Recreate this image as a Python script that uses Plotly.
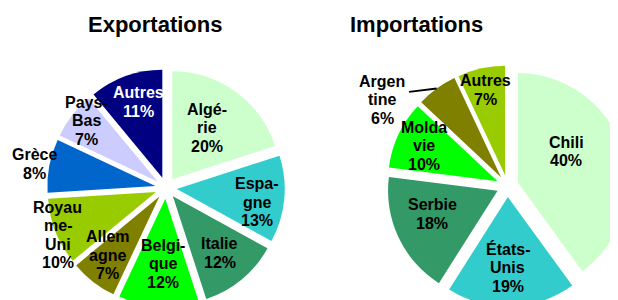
import math
import plotly.graph_objects as go

# ---------------- data ----------------
exp_labels = ["Algérie", "Espagne", "Italie", "Belgique", "Allemagne",
              "Royaume-Uni", "Grèce", "Pays-Bas", "Autres"]
exp_text = ["Algé-<br>rie", "Espa-<br>gne", "Italie", "Belgi-<br>que", "Allem<br>agne",
            "Royau<br>me-<br>Uni", "Grèce", "Pays-<br>Bas", "Autres"]
exp_values = [20, 13, 12, 12, 7, 10, 8, 7, 11]

imp_labels = ["Chili", "États-Unis", "Serbie", "Moldavie", "Argentine", "Autres"]
imp_text = ["Chili", "États-<br>Unis", "Serbie", "Molda<br>vie", "Argen<br>tine", "Autres"]
imp_values = [40, 19, 18, 10, 6, 7]

titles = ["Exportations", "Importations"]

# ---------------- style ----------------
OFF = 8            # page body margin of the browser
W, H = 640, 320    # figure a bit larger than the window: pies are cut at the edges
FONT = "Liberation Sans, Arial, sans-serif"
LABEL_SIZE = 16
LINE_STEP = 18.5
PULL = 0.1
exp_colors = ["#CCFFCC", "#33CCCC", "#339966", "#00FF00", "#808000",
              "#99CC00", "#0066CC", "#CCCCFF", "#000080"]
imp_colors = ["#CCFFCC", "#33CCCC", "#339966", "#00FF00", "#808000", "#99CC00"]
exp_label_colors = ["black"] * 8 + ["white"]
imp_label_colors = ["black"] * 6
# label placement: (radius fraction, angle offset deg)
exp_lab_pos = [(0.573, -2), (0.753, 3.8), (0.682, 0), (0.604, -1.6), (0.721, 3.5),
               (0.991, -2.1), (1.14, -0.5), (0.86, 2.8), (0.737, 2)]
imp_lab_pos = [(0.525, -15), (0.648, 2), (0.635, 5.6), (0.745, 0.5), (1.295, -21), (0.80, 0)]

# pie centre and outer size (page pixels): cx, cy, half-extent incl. pull
exp_geom = (166, 188, 118.8)
imp_geom = (507.5, 186, 120.5)


def px2paper(x, y):
    return (x - OFF) / W, 1 - (y - OFF) / H


def to_domain(g):
    cx, cy, h = g
    x0, y0 = px2paper(cx - h, cy + h)
    x1, y1 = px2paper(cx + h, cy - h)
    return dict(x=[x0, x1], y=[y0, y1])


fig = go.Figure()
annotations = []
shapes = []

for vals, cols, geom, texts, tcols, lpos, labs in [
    (exp_values, exp_colors, exp_geom, exp_text, exp_label_colors, exp_lab_pos, exp_labels),
    (imp_values, imp_colors, imp_geom, imp_text, imp_label_colors, imp_lab_pos, imp_labels),
]:
    fig.add_trace(go.Pie(
        labels=labs, values=vals, sort=False, direction="clockwise", rotation=0,
        marker=dict(colors=cols, line=dict(width=0)),
        pull=[PULL] * len(vals), textinfo="none", hoverinfo="label+percent",
        showlegend=False, domain=to_domain(geom),
    ))
    cx, cy, half = geom
    r = half / (1 + PULL)
    total = sum(vals)
    cum = 0
    for i, v in enumerate(vals):
        mid = (cum + v / 2) / total * 360
        cum += v
        m = math.radians(mid)
        ox = cx + PULL * r * math.sin(m)
        oy = cy - PULL * r * math.cos(m)
        rf, da = lpos[i]
        a = math.radians(mid + da)
        lx = ox + rf * r * math.sin(a)
        ly = oy - rf * r * math.cos(a)
        pct = round(v / total * 100)
        lines = texts[i].split("<br>") + [f"{pct}%"]
        n = len(lines)
        for k, line in enumerate(lines):
            yy = ly + (k - (n - 1) / 2) * LINE_STEP
            px, py = px2paper(lx, yy)
            annotations.append(dict(
                x=px, y=py, xref="paper", yref="paper",
                text=f"<b>{line}</b>", showarrow=False,
                font=dict(family=FONT, size=LABEL_SIZE, color=tcols[i]),
                xanchor="center", yanchor="middle", align="center",
            ))
        if rf > 1.2:
            # leader line from slice outer edge to the outside label
            ex = ox + r * math.sin(m)
            ey = oy - r * math.cos(m)
            x0, y0 = px2paper(ex, ey)
            x1, y1 = px2paper(lx + 27, ly - 8)
            shapes.append(dict(
                type="line", xref="paper", yref="paper",
                x0=x0, y0=y0, x1=x1, y1=y1,
                line=dict(color="black", width=2),
            ))

title_x = [154.5, 416.5]
for t, tx in zip(titles, title_x):
    px, py = px2paper(tx, 25)
    annotations.append(dict(
        x=px, y=py, xref="paper", yref="paper",
        text=f"<b>{t}</b>", showarrow=False,
        font=dict(family=FONT, size=22, color="black"),
        xanchor="center", yanchor="middle",
    ))

fig.update_layout(
    width=W, height=H, margin=dict(l=0, r=0, t=0, b=0),
    paper_bgcolor="white", plot_bgcolor="white",
    annotations=annotations, shapes=shapes,
)

fig.write_html(
    "out.html",
    post_script="document.documentElement.style.overflow='hidden';"
                "document.body.style.overflow='hidden';",
)
